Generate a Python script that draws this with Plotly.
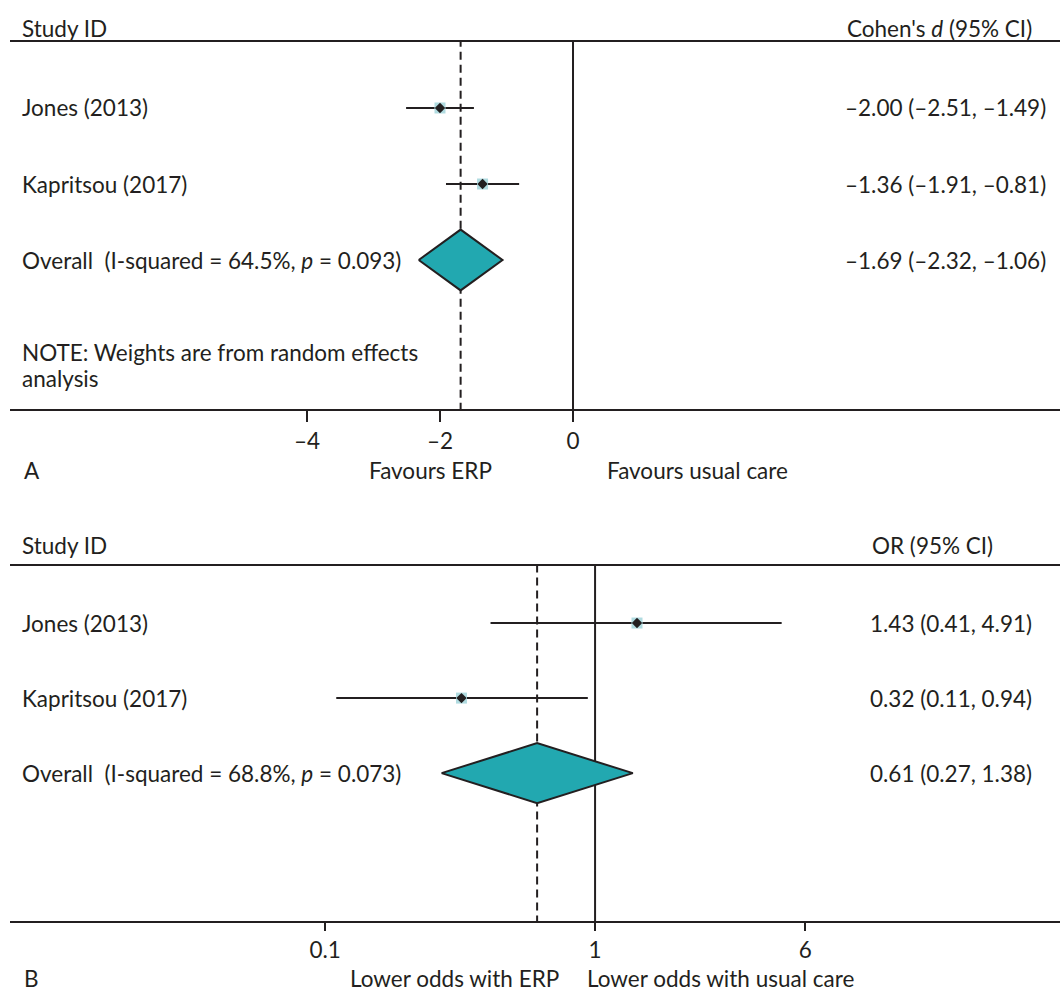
import plotly.graph_objects as go

# ---------------- data ----------------
studies = ["Jones (2013)", "Kapritsou (2017)"]

# Panel A: Cohen's d
a_est = [-2.00, -1.36]
a_lo = [-2.51, -1.91]
a_hi = [-1.49, -0.81]
a_overall = [-1.69, -2.32, -1.06]  # est, lo, hi
a_i2 = "64.5%"
a_p = "0.093"
a_ticks = [-4, -2, 0]
a_ticktext = ["–4", "–2", "0"]

# Panel B: OR
b_est = [1.43, 0.32]
b_lo = [0.41, 0.11]
b_hi = [4.91, 0.94]
b_overall = [0.61, 0.27, 1.38]
b_i2 = "68.8%"
b_p = "0.073"
b_ticks = [0.1, 1, 6]
b_ticktext = ["0.1", "1", "6"]

# ---------------- style ----------------
W, H = 1060, 995
FONT = "Lato"
FS = 22.5
TXT = "#231f20"
LINE = "#231f20"
TEAL = "#22a8b0"
BOX = "#b0dbe0"


def fmt(v):
    s = f"{abs(v):.2f}"
    return ("–" + s) if v < 0 else s


def py(ypx):
    return 1 - ypx / H


fig = go.Figure()

rows = [1, 2, 3]


def add_panel(xa, ya, est, lo, hi, overall, ref):
    # dashed overall line
    fig.add_trace(go.Scatter(x=[overall[0], overall[0]], y=[-10, 10], mode="lines",
                             line=dict(color=LINE, width=2, dash="8px,5px"),
                             xaxis=xa, yaxis=ya, hoverinfo="skip", showlegend=False))
    # null line
    fig.add_trace(go.Scatter(x=[ref, ref], y=[-10, 10], mode="lines",
                             line=dict(color=LINE, width=2),
                             xaxis=xa, yaxis=ya, hoverinfo="skip", showlegend=False))
    # CIs
    for i in range(len(est)):
        fig.add_trace(go.Scatter(x=[lo[i], hi[i]], y=[rows[i], rows[i]], mode="lines",
                                 line=dict(color=LINE, width=2),
                                 xaxis=xa, yaxis=ya, hoverinfo="skip", showlegend=False))
    # weight boxes
    fig.add_trace(go.Scatter(x=est, y=rows[:len(est)], mode="markers",
                             marker=dict(symbol="square", size=11, color=BOX),
                             xaxis=xa, yaxis=ya, hoverinfo="skip", showlegend=False))
    # point estimates
    fig.add_trace(go.Scatter(x=est, y=rows[:len(est)], mode="markers",
                             marker=dict(symbol="diamond", size=8, color=LINE),
                             xaxis=xa, yaxis=ya, hoverinfo="skip", showlegend=False))
    # diamond
    e, l, h = overall
    r = rows[2]
    hh = 0.4
    fig.add_trace(go.Scatter(x=[l, e, h, e, l], y=[r, r - hh, r, r + hh, r], mode="lines",
                             fill="toself", fillcolor=TEAL,
                             line=dict(color=LINE, width=2),
                             xaxis=xa, yaxis=ya, hoverinfo="skip", showlegend=False))


add_panel("x", "y", a_est, a_lo, a_hi, a_overall, 0)
add_panel("x2", "y2", b_est, b_lo, b_hi, b_overall, 1)

axis_common = dict(showgrid=False, zeroline=False, showline=True, linecolor=LINE, linewidth=2,
                   mirror=True, ticks="outside", tickwidth=2, tickcolor=LINE,
                   tickfont=dict(family=FONT, size=FS, color=TXT), fixedrange=True)

fig.update_layout(
    width=W, height=H,
    margin=dict(l=0, r=0, t=0, b=0),
    paper_bgcolor="white", plot_bgcolor="white",
    font=dict(family=FONT, size=FS, color=TXT),
    xaxis=dict(domain=[10 / W, 1], range=[-8.466, 7.323], tickvals=a_ticks, ticktext=a_ticktext,
               anchor="y", ticklen=11, **axis_common),
    yaxis=dict(domain=[py(409), py(42)], range=[4.96, 0.132], visible=False, fixedrange=True),
    xaxis2=dict(domain=[10 / W, 1], type="log", range=[-2.167, 1.722], tickvals=b_ticks,
                ticktext=b_ticktext, anchor="y2", ticklen=8, **axis_common),
    yaxis2=dict(domain=[py(921), py(566)], range=[4.97, 0.24], visible=False, fixedrange=True),
)

ann = []


def txt(text, x, y, xanchor="left", xref="paper", yref="paper", size=FS):
    ann.append(dict(text=text, x=x, y=y, xref=xref, yref=yref, xanchor=xanchor, yanchor="middle",
                    showarrow=False, font=dict(family=FONT, size=size, color=TXT)))


# Panel A texts
txt("Study ID", 20 / W, py(29))
txt("Cohen's <i>d</i> (95% CI)", 845 / W, py(29))
for i, s in enumerate(studies):
    txt(s, 20 / W, rows[i], yref="y")
    txt(f"{fmt(a_est[i])} ({fmt(a_lo[i])}, {fmt(a_hi[i])})", 843 / W, rows[i], yref="y")
txt(f"Overall\u00a0 (I-squared = {a_i2}, <i>p</i> = {a_p})", 20 / W, rows[2], yref="y")
txt(f"{fmt(a_overall[0])} ({fmt(a_overall[1])}, {fmt(a_overall[2])})", 843 / W, rows[2], yref="y")
txt("NOTE: Weights are from random effects", 20 / W, py(352))
txt("analysis", 20 / W, py(378))
txt("A", 22 / W, py(470))
txt("Favours ERP", 430 / W, py(470), xanchor="center")
txt("Favours usual care", 697 / W, py(470), xanchor="center")

# Panel B texts
txt("Study ID", 20 / W, py(545))
txt("OR (95% CI)", 870 / W, py(545))
for i, s in enumerate(studies):
    txt(s, 20 / W, rows[i], yref="y2")
    txt(f"{fmt(b_est[i])} ({fmt(b_lo[i])}, {fmt(b_hi[i])})", 868 / W, rows[i], yref="y2")
txt(f"Overall\u00a0 (I-squared = {b_i2}, <i>p</i> = {b_p})", 20 / W, rows[2], yref="y2")
txt(f"{fmt(b_overall[0])} ({fmt(b_overall[1])}, {fmt(b_overall[2])})", 868 / W, rows[2], yref="y2")
txt("B", 22 / W, py(978))
txt("Lower odds with ERP", 454 / W, py(978), xanchor="center")
txt("Lower odds with usual care", 720 / W, py(978), xanchor="center")

fig.update_layout(annotations=ann)

fig.write_html("out.html", config={"displayModeBar": False},
               post_script="document.body.style.margin='0';")
